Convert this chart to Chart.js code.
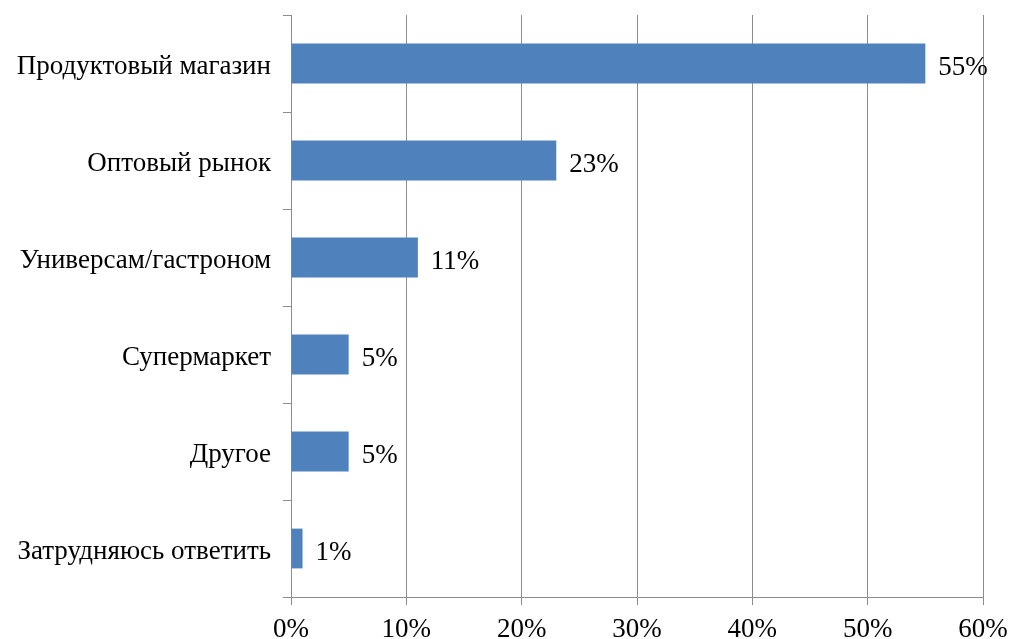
<!DOCTYPE html>
<html>
<head>
<meta charset="utf-8">
<script src="https://cdn.jsdelivr.net/npm/chart.js@4"></script>
<style>
  html, body { margin: 0; padding: 0; background: #fff; }
  #wrap { width: 1011px; height: 639px; }
</style>
</head>
<body>
<div id="wrap"><canvas id="c" width="1011" height="639"></canvas></div>
<script>
// Where people buy groceries (share of respondents, %)
const categories = [
  'Продуктовый магазин',
  'Оптовый рынок',
  'Универсам/гастроном',
  'Супермаркет',
  'Другое',
  'Затрудняюсь ответить'
];
const shares = [55, 23, 11, 5, 5, 1];
const xTickValues = [0, 10, 20, 30, 40, 50, 60];

const FONT = { family: '"Liberation Serif", "Times New Roman", serif', size: 27 };
const GRID = '#8c8c8c';

// Writes the value next to the end of each bar
const valueLabels = {
  id: 'valueLabels',
  afterDatasetsDraw(chart) {
    const ctx = chart.ctx;
    const meta = chart.getDatasetMeta(0);
    ctx.save();
    ctx.font = FONT.size + 'px ' + FONT.family;
    ctx.fillStyle = '#000';
    ctx.textAlign = 'left';
    ctx.textBaseline = 'middle';
    meta.data.forEach((bar, i) => {
      ctx.fillText(shares[i] + '%', bar.x + 13, bar.y + 4);
    });
    ctx.restore();
  }
};

new Chart(document.getElementById('c'), {
  type: 'bar',
  data: {
    labels: categories,
    datasets: [{
      data: shares,
      backgroundColor: '#4F81BD',
      borderWidth: 0,
      barPercentage: 0.41,
      categoryPercentage: 1.0
    }]
  },
  options: {
    indexAxis: 'y',
    responsive: false,
    animation: false,
    events: [],
    layout: { padding: { top: 15, right: 28, left: 0, bottom: 0 } },
    plugins: { legend: { display: false }, tooltip: { enabled: false } },
    scales: {
      x: {
        min: 0,
        max: 60,
        afterBuildTicks(scale) {
          scale.ticks = xTickValues.map(v => ({ value: v }));
        },
        afterFit(scale) {
          scale.height = 42;
          scale.paddingLeft = 0;
          scale.paddingRight = 0;
        },
        ticks: {
          font: FONT,
          color: '#000',
          padding: 9,
          callback: v => v + '%'
        },
        grid: { color: GRID, lineWidth: 1, tickLength: 8, drawTicks: true },
        border: { color: GRID, width: 1 }
      },
      y: {
        offset: true,
        afterFit(scale) {
          scale.width = 291;
          scale.paddingTop = 0;
          scale.paddingBottom = 0;
        },
        ticks: { font: FONT, color: '#000', padding: 12, labelOffset: 3 },
        grid: { offset: true, drawOnChartArea: false, drawTicks: true, tickLength: 8, color: GRID },
        border: { color: GRID, width: 1 }
      }
    }
  },
  plugins: [valueLabels]
});
</script>
</body>
</html>
